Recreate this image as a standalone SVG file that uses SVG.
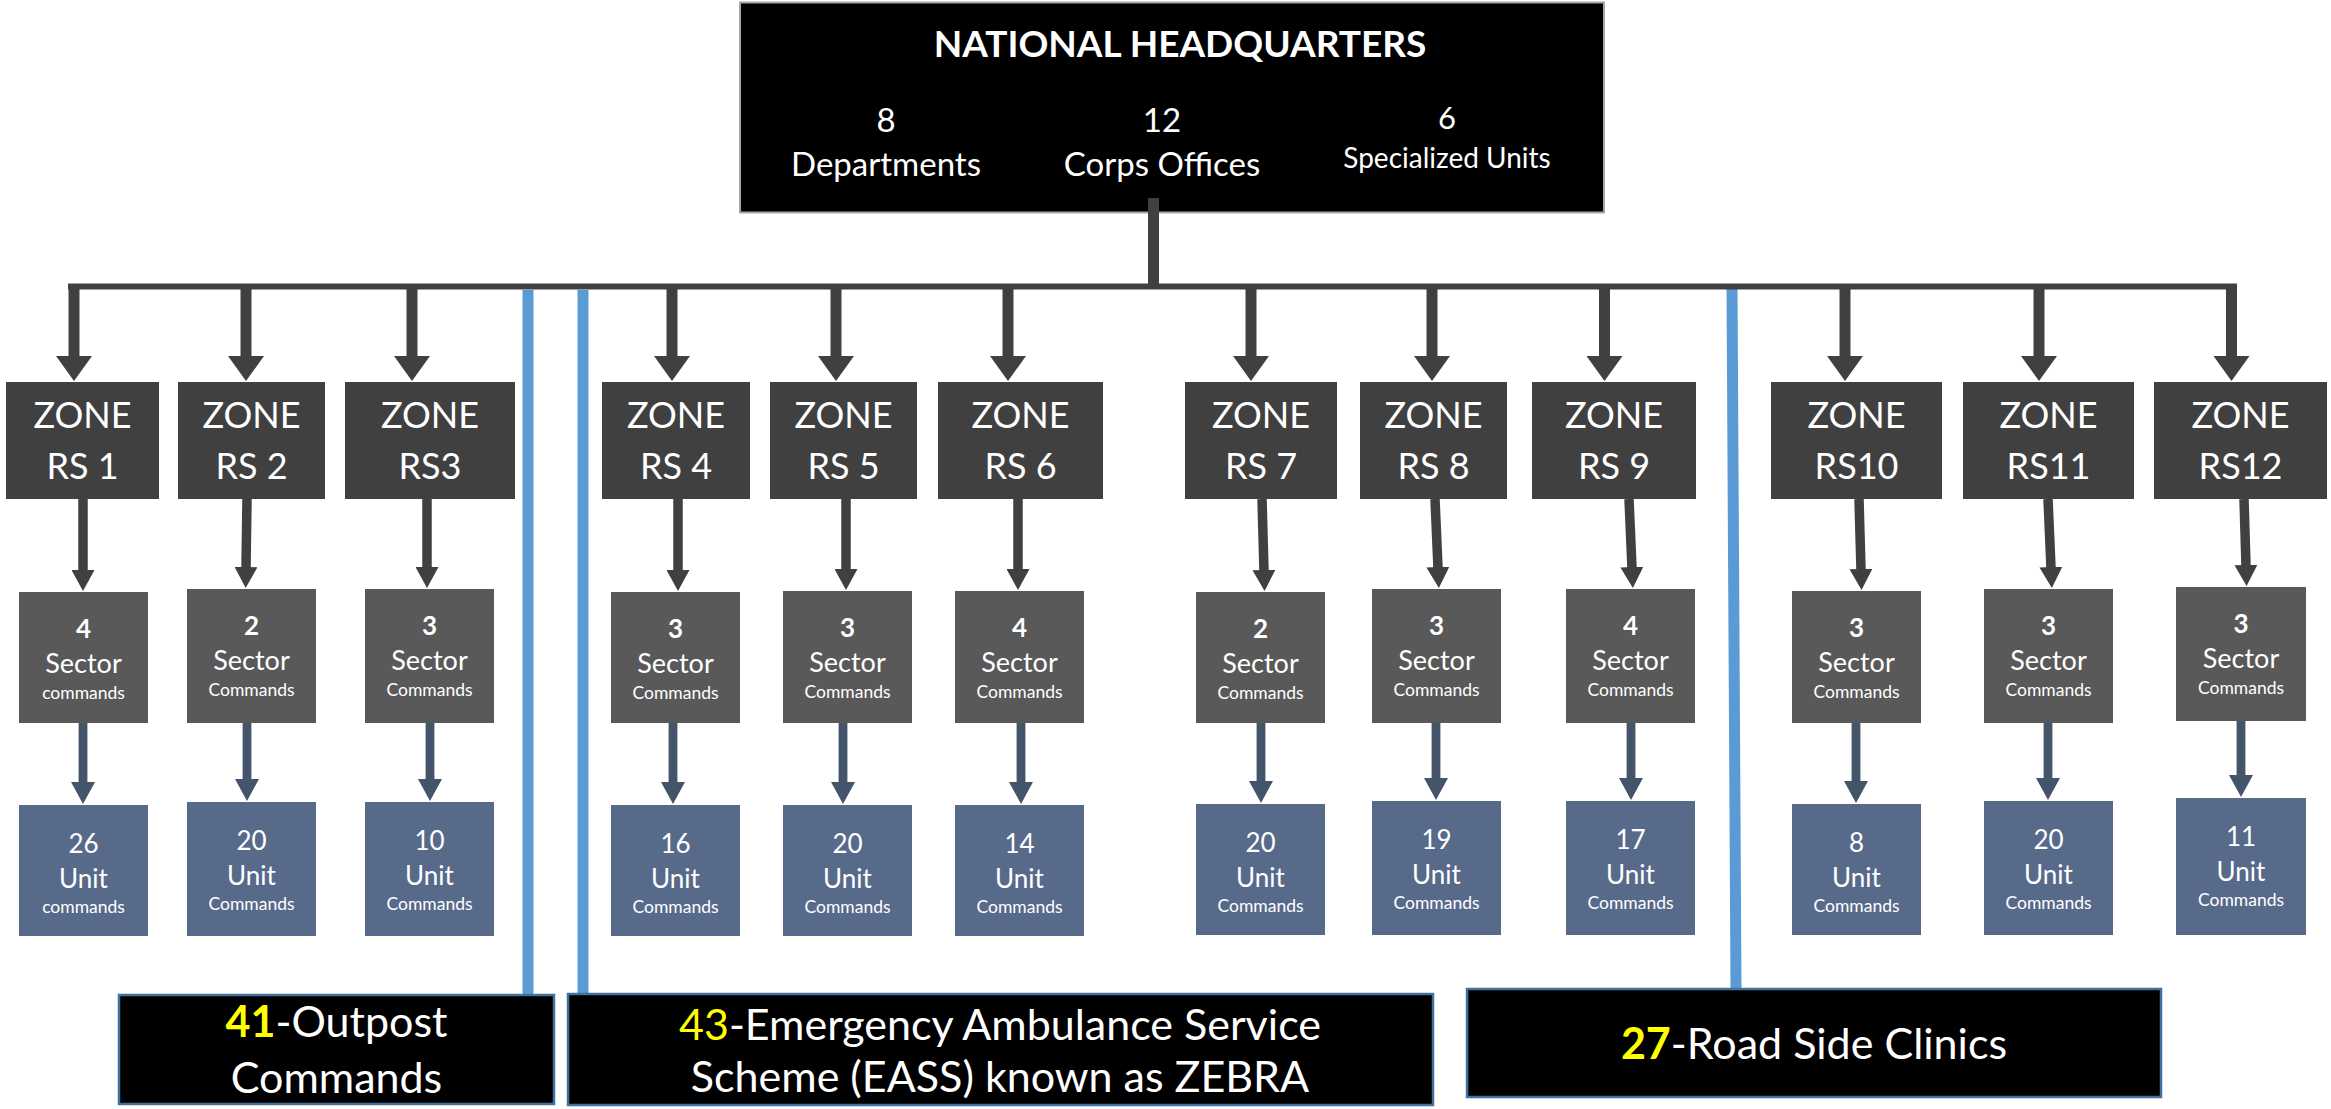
<svg xmlns="http://www.w3.org/2000/svg" width="2331" height="1109" viewBox="0 0 2331 1109">
<style>
.t{font-family:Lato,"Liberation Sans",sans-serif;fill:#fff;text-anchor:middle}
.b{font-weight:bold}
.y{fill:#ffff00}
.hq{fill:#000;stroke:#a6a6a6;stroke-width:2}
.zone{fill:#404040}
.sector{fill:#595959}
.unit{fill:#586a8a}
.note{fill:#000;stroke:#41719c;stroke-width:2.5}
.z{font-size:36px}
.n{font-size:26px}
.s{font-size:27px}
.c{font-size:17.5px}
.big{font-size:43px}
.bus{stroke:#404040;fill:none}
.a1{stroke:#404040;stroke-width:11;marker-end:url(#m1)}
.a2{stroke:#404040;stroke-width:9.5;marker-end:url(#m2)}
.a3{stroke:#44546a;stroke-width:8.8;marker-end:url(#m3)}
.blue{stroke:#5b9bd5;stroke-width:11}
</style>
<defs>
<marker id="m1" markerUnits="userSpaceOnUse" viewBox="0 0 25 36" markerWidth="25" markerHeight="36" refX="1" refY="18" orient="auto"><path d="M0,0L25,18L0,36Z" fill="#404040"/></marker>
<marker id="m2" markerUnits="userSpaceOnUse" viewBox="0 0 21 23" markerWidth="21" markerHeight="23" refX="1" refY="11.5" orient="auto"><path d="M0,0L21,11.5L0,23Z" fill="#404040"/></marker>
<marker id="m3" markerUnits="userSpaceOnUse" viewBox="0 0 22 24" markerWidth="22" markerHeight="24" refX="1" refY="12" orient="auto"><path d="M0,0L22,12L0,24Z" fill="#44546a"/></marker>
</defs>
<rect width="2331" height="1109" fill="#fff"/>

<g id="hq">
<rect class="hq" x="740" y="2.5" width="864" height="210"/>
<text class="t b" x="1180" y="57" style="font-size:37px">NATIONAL HEADQUARTERS</text>
<text class="t" x="886" y="132" style="font-size:33px">8</text>
<text class="t" x="886" y="176" style="font-size:33px">Departments</text>
<text class="t" x="1162" y="132" style="font-size:33px">12</text>
<text class="t" x="1162" y="176" style="font-size:33px">Corps Offices</text>
<text class="t" x="1447" y="129" style="font-size:31px">6</text>
<text class="t" x="1447" y="168" style="font-size:28px">Specialized Units</text>
</g>

<g id="dividers">
<line class="blue" x1="528" y1="290" x2="528" y2="994"/>
<line class="blue" x1="583" y1="290" x2="583" y2="993"/>
<line class="blue" x1="1732" y1="287" x2="1736" y2="988"/>
</g>

<g id="connectors">
<line class="bus" x1="1153.5" y1="198" x2="1153.5" y2="287" stroke-width="11"/>
<line class="bus" x1="68" y1="286.5" x2="2237" y2="286.5" stroke-width="6"/>
<line class="a1" x1="74" y1="284" x2="74" y2="357"/>
<line class="a1" x1="246" y1="284" x2="246" y2="357"/>
<line class="a1" x1="412" y1="284" x2="412" y2="357"/>
<line class="a1" x1="672" y1="284" x2="672" y2="357"/>
<line class="a1" x1="836" y1="284" x2="836" y2="357"/>
<line class="a1" x1="1008" y1="284" x2="1008" y2="357"/>
<line class="a1" x1="1251" y1="284" x2="1251" y2="357"/>
<line class="a1" x1="1432" y1="284" x2="1432" y2="357"/>
<line class="a1" x1="1604.5" y1="284" x2="1604.5" y2="357"/>
<line class="a1" x1="1845" y1="284" x2="1845" y2="357"/>
<line class="a1" x1="2039" y1="284" x2="2039" y2="357"/>
<line class="a1" x1="2231.5" y1="284" x2="2231.5" y2="357"/>

<line class="a2" x1="83" y1="499" x2="83" y2="571"/>
<line class="a2" x1="247" y1="499" x2="246" y2="568"/>
<line class="a2" x1="427" y1="499" x2="427" y2="568"/>
<line class="a2" x1="678" y1="499" x2="678" y2="571"/>
<line class="a2" x1="846" y1="499" x2="846" y2="570"/>
<line class="a2" x1="1018" y1="499" x2="1018" y2="570"/>
<line class="a2" x1="1262" y1="499" x2="1264" y2="571"/>
<line class="a2" x1="1435" y1="499" x2="1438" y2="568"/>
<line class="a2" x1="1629" y1="499" x2="1632" y2="568"/>
<line class="a2" x1="1859" y1="499" x2="1861" y2="570"/>
<line class="a2" x1="2048" y1="499" x2="2051" y2="568"/>
<line class="a2" x1="2244" y1="499" x2="2246" y2="566"/>

<line class="a3" x1="83" y1="723" x2="83" y2="783"/>
<line class="a3" x1="247" y1="723" x2="247" y2="780"/>
<line class="a3" x1="430" y1="723" x2="430" y2="780"/>
<line class="a3" x1="673" y1="723" x2="673" y2="783"/>
<line class="a3" x1="843" y1="723" x2="843" y2="783"/>
<line class="a3" x1="1021" y1="723" x2="1021" y2="783"/>
<line class="a3" x1="1261" y1="723" x2="1261" y2="782"/>
<line class="a3" x1="1436" y1="723" x2="1436" y2="779"/>
<line class="a3" x1="1631" y1="723" x2="1631" y2="779"/>
<line class="a3" x1="1856" y1="723" x2="1856" y2="782"/>
<line class="a3" x1="2048" y1="723" x2="2048" y2="779"/>
<line class="a3" x1="2241" y1="721" x2="2241" y2="776"/>
</g>

<g id="zone1"><rect class="zone" x="6" y="382" width="153" height="117"/><text class="t z" x="82.5" y="428">ZONE</text><text class="t z" x="82.5" y="479">RS 1</text></g>
<g id="zone2"><rect class="zone" x="178" y="382" width="147" height="117"/><text class="t z" x="251.5" y="428">ZONE</text><text class="t z" x="251.5" y="479">RS 2</text></g>
<g id="zone3"><rect class="zone" x="345" y="382" width="170" height="117"/><text class="t z" x="430" y="428">ZONE</text><text class="t z" x="430" y="479">RS3</text></g>
<g id="zone4"><rect class="zone" x="602" y="382" width="148" height="117"/><text class="t z" x="676" y="428">ZONE</text><text class="t z" x="676" y="479">RS 4</text></g>
<g id="zone5"><rect class="zone" x="770" y="382" width="147" height="117"/><text class="t z" x="843.5" y="428">ZONE</text><text class="t z" x="843.5" y="479">RS 5</text></g>
<g id="zone6"><rect class="zone" x="938" y="382" width="165" height="117"/><text class="t z" x="1020.5" y="428">ZONE</text><text class="t z" x="1020.5" y="479">RS 6</text></g>
<g id="zone7"><rect class="zone" x="1185" y="382" width="152" height="117"/><text class="t z" x="1261" y="428">ZONE</text><text class="t z" x="1261" y="479">RS 7</text></g>
<g id="zone8"><rect class="zone" x="1360" y="382" width="147" height="117"/><text class="t z" x="1433.5" y="428">ZONE</text><text class="t z" x="1433.5" y="479">RS 8</text></g>
<g id="zone9"><rect class="zone" x="1532" y="382" width="164" height="117"/><text class="t z" x="1614" y="428">ZONE</text><text class="t z" x="1614" y="479">RS 9</text></g>
<g id="zone10"><rect class="zone" x="1771" y="382" width="171" height="117"/><text class="t z" x="1856.5" y="428">ZONE</text><text class="t z" x="1856.5" y="479">RS10</text></g>
<g id="zone11"><rect class="zone" x="1963" y="382" width="171" height="117"/><text class="t z" x="2048.5" y="428">ZONE</text><text class="t z" x="2048.5" y="479">RS11</text></g>
<g id="zone12"><rect class="zone" x="2154" y="382" width="173" height="117"/><text class="t z" x="2240.5" y="428">ZONE</text><text class="t z" x="2240.5" y="479">RS12</text></g>

<g id="sector1"><rect class="sector" x="19" y="592" width="129" height="131"/><text class="t b n" x="83.5" y="638">4</text><text class="t s" x="83.5" y="673">Sector</text><text class="t c" x="83.5" y="699">commands</text></g>
<g id="sector2"><rect class="sector" x="187" y="589" width="129" height="134"/><text class="t b n" x="251.5" y="635">2</text><text class="t s" x="251.5" y="670">Sector</text><text class="t c" x="251.5" y="696">Commands</text></g>
<g id="sector3"><rect class="sector" x="365" y="589" width="129" height="134"/><text class="t b n" x="429.5" y="635">3</text><text class="t s" x="429.5" y="670">Sector</text><text class="t c" x="429.5" y="696">Commands</text></g>
<g id="sector4"><rect class="sector" x="611" y="592" width="129" height="131"/><text class="t b n" x="675.5" y="638">3</text><text class="t s" x="675.5" y="673">Sector</text><text class="t c" x="675.5" y="699">Commands</text></g>
<g id="sector5"><rect class="sector" x="783" y="591" width="129" height="132"/><text class="t b n" x="847.5" y="637">3</text><text class="t s" x="847.5" y="672">Sector</text><text class="t c" x="847.5" y="698">Commands</text></g>
<g id="sector6"><rect class="sector" x="955" y="591" width="129" height="132"/><text class="t b n" x="1019.5" y="637">4</text><text class="t s" x="1019.5" y="672">Sector</text><text class="t c" x="1019.5" y="698">Commands</text></g>
<g id="sector7"><rect class="sector" x="1196" y="592" width="129" height="131"/><text class="t b n" x="1260.5" y="638">2</text><text class="t s" x="1260.5" y="673">Sector</text><text class="t c" x="1260.5" y="699">Commands</text></g>
<g id="sector8"><rect class="sector" x="1372" y="589" width="129" height="134"/><text class="t b n" x="1436.5" y="635">3</text><text class="t s" x="1436.5" y="670">Sector</text><text class="t c" x="1436.5" y="696">Commands</text></g>
<g id="sector9"><rect class="sector" x="1566" y="589" width="129" height="134"/><text class="t b n" x="1630.5" y="635">4</text><text class="t s" x="1630.5" y="670">Sector</text><text class="t c" x="1630.5" y="696">Commands</text></g>
<g id="sector10"><rect class="sector" x="1792" y="591" width="129" height="132"/><text class="t b n" x="1856.5" y="637">3</text><text class="t s" x="1856.5" y="672">Sector</text><text class="t c" x="1856.5" y="698">Commands</text></g>
<g id="sector11"><rect class="sector" x="1984" y="589" width="129" height="134"/><text class="t b n" x="2048.5" y="635">3</text><text class="t s" x="2048.5" y="670">Sector</text><text class="t c" x="2048.5" y="696">Commands</text></g>
<g id="sector12"><rect class="sector" x="2176" y="587" width="130" height="134"/><text class="t b n" x="2241" y="633">3</text><text class="t s" x="2241" y="668">Sector</text><text class="t c" x="2241" y="694">Commands</text></g>

<g id="unit1"><rect class="unit" x="19" y="805" width="129" height="131"/><text class="t n" x="83.5" y="853">26</text><text class="t n" x="83.5" y="888">Unit</text><text class="t c" x="83.5" y="913">commands</text></g>
<g id="unit2"><rect class="unit" x="187" y="802" width="129" height="134"/><text class="t n" x="251.5" y="850">20</text><text class="t n" x="251.5" y="885">Unit</text><text class="t c" x="251.5" y="910">Commands</text></g>
<g id="unit3"><rect class="unit" x="365" y="802" width="129" height="134"/><text class="t n" x="429.5" y="850">10</text><text class="t n" x="429.5" y="885">Unit</text><text class="t c" x="429.5" y="910">Commands</text></g>
<g id="unit4"><rect class="unit" x="611" y="805" width="129" height="131"/><text class="t n" x="675.5" y="853">16</text><text class="t n" x="675.5" y="888">Unit</text><text class="t c" x="675.5" y="913">Commands</text></g>
<g id="unit5"><rect class="unit" x="783" y="805" width="129" height="131"/><text class="t n" x="847.5" y="853">20</text><text class="t n" x="847.5" y="888">Unit</text><text class="t c" x="847.5" y="913">Commands</text></g>
<g id="unit6"><rect class="unit" x="955" y="805" width="129" height="131"/><text class="t n" x="1019.5" y="853">14</text><text class="t n" x="1019.5" y="888">Unit</text><text class="t c" x="1019.5" y="913">Commands</text></g>
<g id="unit7"><rect class="unit" x="1196" y="804" width="129" height="131"/><text class="t n" x="1260.5" y="852">20</text><text class="t n" x="1260.5" y="887">Unit</text><text class="t c" x="1260.5" y="912">Commands</text></g>
<g id="unit8"><rect class="unit" x="1372" y="801" width="129" height="134"/><text class="t n" x="1436.5" y="849">19</text><text class="t n" x="1436.5" y="884">Unit</text><text class="t c" x="1436.5" y="909">Commands</text></g>
<g id="unit9"><rect class="unit" x="1566" y="801" width="129" height="134"/><text class="t n" x="1630.5" y="849">17</text><text class="t n" x="1630.5" y="884">Unit</text><text class="t c" x="1630.5" y="909">Commands</text></g>
<g id="unit10"><rect class="unit" x="1792" y="804" width="129" height="131"/><text class="t n" x="1856.5" y="852">8</text><text class="t n" x="1856.5" y="887">Unit</text><text class="t c" x="1856.5" y="912">Commands</text></g>
<g id="unit11"><rect class="unit" x="1984" y="801" width="129" height="134"/><text class="t n" x="2048.5" y="849">20</text><text class="t n" x="2048.5" y="884">Unit</text><text class="t c" x="2048.5" y="909">Commands</text></g>
<g id="unit12"><rect class="unit" x="2176" y="798" width="130" height="137"/><text class="t n" x="2241" y="846">11</text><text class="t n" x="2241" y="881">Unit</text><text class="t c" x="2241" y="906">Commands</text></g>

<g id="outpost">
<rect class="note" x="119" y="995" width="435" height="109"/>
<text class="t big" x="336.5" y="1037"><tspan class="y b">41</tspan>-Outpost</text>
<text class="t big" x="336.5" y="1093">Commands</text>
</g>
<g id="eass">
<rect class="note" x="568" y="994" width="865" height="111"/>
<text class="t big" x="1000" y="1040"><tspan class="y">43</tspan>-Emergency Ambulance Service</text>
<text class="t big" x="1000" y="1092">Scheme (EASS) known as ZEBRA</text>
</g>
<g id="clinics">
<rect class="note" x="1467" y="989" width="694" height="108"/>
<text class="t big" x="1814" y="1059"><tspan class="y b">27</tspan>-Road Side Clinics</text>
</g>
</svg>
